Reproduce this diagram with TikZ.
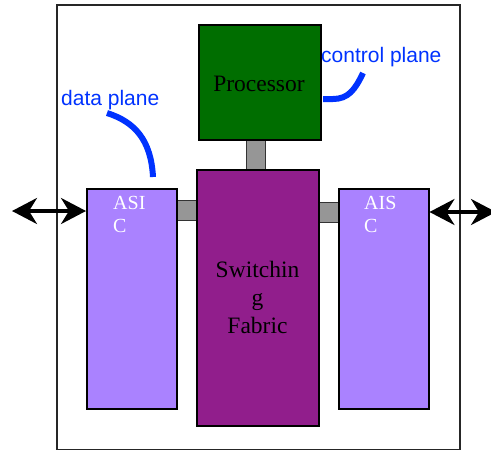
\documentclass[tikz,border=0pt]{standalone}
\usepackage{fontspec}
\setmainfont{Liberation Serif}
\newfontfamily\labelfont{Liberation Sans}
\usetikzlibrary{arrows.meta}
\definecolor{procgreen}{RGB}{0,110,0}
\definecolor{fabpurple}{RGB}{145,30,140}
\definecolor{asiclav}{RGB}{170,130,255}
\definecolor{linkgray}{RGB}{150,150,150}
\definecolor{planeblue}{RGB}{0,50,255}
\tikzset{
  blk/.style={draw=black, line width=1.5pt, inner sep=0pt, anchor=north west},
  lnk/.style={draw=black!80, fill=linkgray, line width=1.2pt, inner sep=0pt, anchor=north west},
  planelbl/.style={text=planeblue, font=\labelfont\fontsize{21}{24}\selectfont, inner sep=0pt, anchor=base west},
  planecurve/.style={draw=planeblue, line width=6pt},
  asictxt/.style={text=white, font=\fontsize{20}{23}\selectfont, align=left, inner sep=0pt, anchor=base west},
  ioarrow/.style={line width=3.5pt, {Stealth[length=25pt,width=26pt,inset=8pt]}-{Stealth[length=25pt,width=26pt,inset=8pt]}}
}
\begin{document}
\begin{tikzpicture}[x=1pt,y=-1pt]
\useasboundingbox (0,0) rectangle (491,450);
% outer frame
\node[draw=black!85, line width=1.5pt, inner sep=0pt, anchor=north west, minimum width=403pt, minimum height=445pt] (frame) at (56,4) {};
% links
\node[lnk, minimum width=19pt, minimum height=30pt] (linkP) at (246,139) {};
\node[lnk, minimum width=20pt, minimum height=20pt] (linkL) at (176,200) {};
\node[lnk, minimum width=21pt, minimum height=20pt] (linkR) at (317,202) {};
% blocks
\node[blk, fill=procgreen, minimum width=122pt, minimum height=115pt] (proc) at (198,24) {};
\node[font=\fontsize{23.5}{28}\selectfont, anchor=base] (proctxt) at (259,91) {Processor};
\node[blk, fill=fabpurple, minimum width=122pt, minimum height=256pt] (fabric) at (196,169) {};
\node[font=\fontsize{23.5}{28}\selectfont, align=center, anchor=base, inner sep=0pt] (fabtxt) at (257.5,333) {Switchin\\g\\Fabric};
\node[blk, fill=asiclav, minimum width=90pt, minimum height=220pt] (asicL) at (86,188) {};
\node[blk, fill=asiclav, minimum width=90pt, minimum height=220pt] (asicR) at (338,188) {};
\node[asictxt] (asicLtxt) at (113,232) {ASI\\C};
\node[asictxt] (asicRtxt) at (364,232) {AIS\\C};
% io arrows
\coordinate (inL) at (12,211);
\coordinate (inR) at (496,212);
\draw[ioarrow] (inL) -- (inL -| asicL.west);
\draw[ioarrow] (inR -| asicR.east) -- (inR);
% plane labels
\node[planelbl] (dataplane) at (61,105) {data plane};
\node[planelbl] (ctrlplane) at (321,62) {control plane};
\coordinate (dA) at (107,113);
\coordinate (dB) at (153,177);
\coordinate (cA) at (323,99);
\coordinate (cB) at (363,73);
\draw[planecurve] (dA) .. controls (135,122) and (151,140) .. (dB);
\draw[planecurve] (cA) -- (333,99) .. controls (348,99) and (355,90) .. (cB);
\end{tikzpicture}
\end{document}
